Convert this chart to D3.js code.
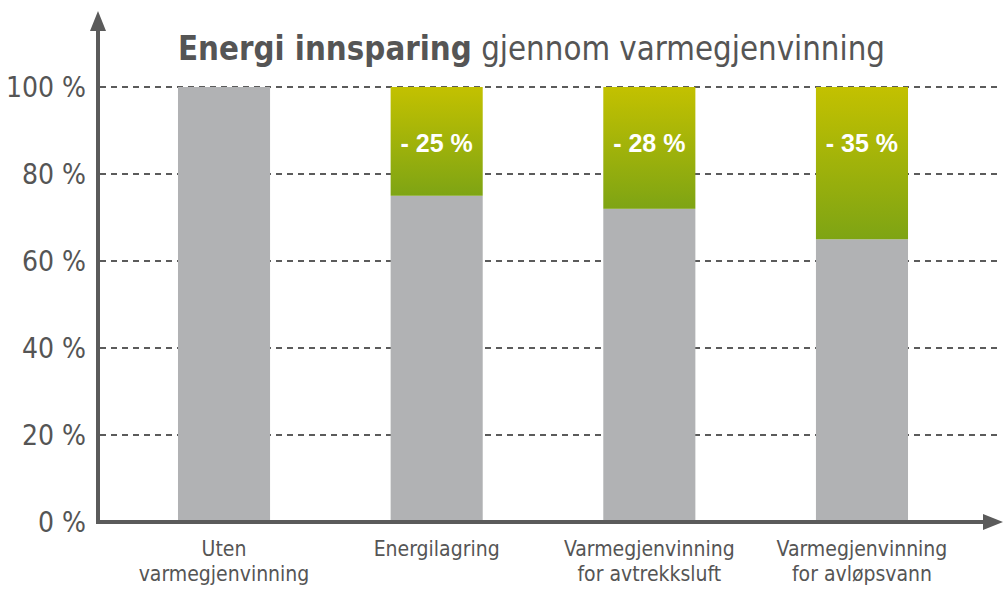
<!DOCTYPE html>
<html>
<head>
<meta charset="utf-8">
<script src="https://cdn.jsdelivr.net/npm/d3@7"></script>
<style>
  body { margin: 0; background: #fff; }
  svg { display: block; }
</style>
</head>
<body>
<svg id="chart" width="1003" height="589"></svg>
<script>
// data
const categories = ["Uten|varmegjenvinning", "Energilagring", "Varmegjenvinning|for avtrekksluft", "Varmegjenvinning|for avløpsvann"];
const remaining = [100, 75, 72, 65];
const savings = [0, 25, 28, 35];
const savingLabels = ["", "- 25 %", "- 28 %", "- 35 %"];
const yTicks = [0, 20, 40, 60, 80, 100];

const svg = d3.select("#chart");
const axisColor = "#5b5b5b";
const textColor = "#555";
const narrow = "'Liberation Sans Narrow', 'DejaVu Sans Condensed', 'Liberation Sans', sans-serif";

const x = d3.scaleBand().domain(categories).range([100, 986]).paddingInner(0.567).paddingOuter(0.3667);
const y = d3.scaleLinear().domain([0, 100]).range([522, 87]);

const defs = svg.append("defs");
const grad = defs.append("linearGradient").attr("id", "green").attr("x1", 0).attr("y1", 0).attr("x2", 0).attr("y2", 1);
grad.append("stop").attr("offset", "0%").attr("stop-color", "#c3c100");
grad.append("stop").attr("offset", "100%").attr("stop-color", "#7ea414");

// gridlines
svg.append("g").selectAll("line")
  .data(yTicks.filter(d => d > 0))
  .join("line")
  .attr("x1", 100).attr("x2", 1000)
  .attr("y1", d => y(d)).attr("y2", d => y(d))
  .attr("stroke", axisColor).attr("stroke-width", 2)
  .attr("stroke-dasharray", "6,5");

// grey bars
svg.append("g").selectAll("rect")
  .data(categories)
  .join("rect")
  .attr("x", d => x(d))
  .attr("width", x.bandwidth())
  .attr("y", (d, i) => y(remaining[i]))
  .attr("height", (d, i) => y(0) - y(remaining[i]))
  .attr("fill", "#b1b2b4");

// green savings bars
const sg = svg.append("g");
sg.selectAll("rect")
  .data(categories.filter((d, i) => savings[i] > 0))
  .join("rect")
  .attr("x", d => x(d))
  .attr("width", x.bandwidth())
  .attr("y", d => y(remaining[categories.indexOf(d)] + savings[categories.indexOf(d)]))
  .attr("height", d => { const i = categories.indexOf(d); return y(remaining[i]) - y(remaining[i] + savings[i]); })
  .attr("fill", "url(#green)");

sg.selectAll("text")
  .data(categories.filter((d, i) => savings[i] > 0))
  .join("text")
  .attr("x", d => x(d) + x.bandwidth() / 2)
  .attr("y", 152)
  .attr("text-anchor", "middle")
  .attr("fill", "#fff")
  .attr("font-family", "'Liberation Sans', Arial, sans-serif")
  .attr("font-weight", "bold")
  .attr("font-size", 25)
  .text(d => savingLabels[categories.indexOf(d)]);

// y tick labels
svg.append("g").selectAll("text")
  .data(yTicks)
  .join("text")
  .attr("x", 86)
  .attr("y", d => y(d) + 10)
  .attr("text-anchor", "end")
  .attr("fill", textColor)
  .attr("font-family", narrow)
  .attr("font-size", 28)
  .text(d => d + " %");

// category labels
const cl = svg.append("g").selectAll("text")
  .data(categories)
  .join("text")
  .attr("text-anchor", "middle")
  .attr("fill", textColor)
  .attr("font-family", narrow)
  .attr("font-size", 21);
cl.each(function (d) {
  const parts = d.split("|");
  d3.select(this).selectAll("tspan")
    .data(parts)
    .join("tspan")
    .attr("x", x(d) + x.bandwidth() / 2)
    .attr("y", (p, j) => 556 + j * 25)
    .text(p => p);
});

// axes with arrows
svg.append("line").attr("x1", 98).attr("x2", 98).attr("y1", 524).attr("y2", 30)
  .attr("stroke", axisColor).attr("stroke-width", 4);
svg.append("path").attr("d", "M98,11 L90,31 L106,31 Z").attr("fill", axisColor);
svg.append("line").attr("x1", 96).attr("x2", 985).attr("y1", 522).attr("y2", 522)
  .attr("stroke", axisColor).attr("stroke-width", 4);
svg.append("path").attr("d", "M1003,522 L983,514 L983,530 Z").attr("fill", axisColor);

// title
const t = svg.append("text").attr("x", 178).attr("y", 60)
  .attr("fill", textColor).attr("font-family", narrow).attr("font-size", 33)
  .attr("textLength", 707).attr("lengthAdjust", "spacingAndGlyphs");
t.append("tspan").attr("font-weight", "bold").text("Energi innsparing");
t.append("tspan").text(" gjennom varmegjenvinning");
</script>
</body>
</html>
